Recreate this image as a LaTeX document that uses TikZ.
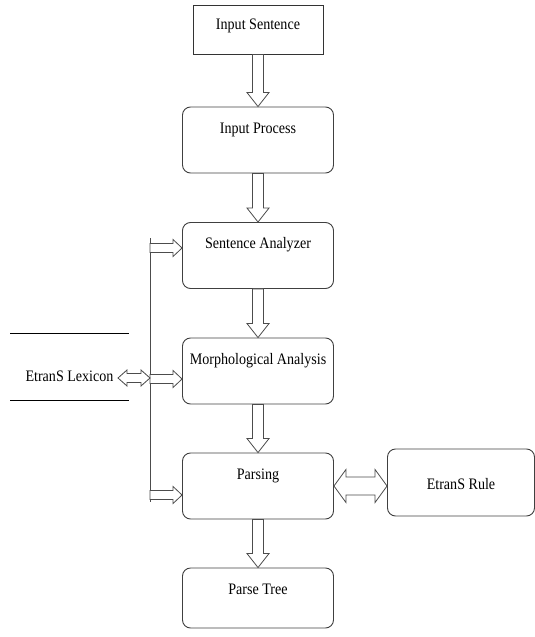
\documentclass[tikz,border=0pt]{standalone}
\usepackage{fontspec}
\setmainfont[FakeStretch=0.88]{Liberation Serif}
\usetikzlibrary{positioning,calc}

\tikzset{
  % hollow block arrow, one head: {shaft half}{head half}{head length}
  fat/.style n args={3}{to path={
    -- ($(\tikztostart)!#1!90:(\tikztotarget)$)
    -- ($(\tikztotarget)!#3!(\tikztostart)!#1!-90:(\tikztostart)$)
    -- ($(\tikztotarget)!#3!(\tikztostart)!#2!-90:(\tikztostart)$)
    -- (\tikztotarget)
    -- ($(\tikztotarget)!#3!(\tikztostart)!#2!90:(\tikztostart)$)
    -- ($(\tikztotarget)!#3!(\tikztostart)!#1!90:(\tikztostart)$)
    -- ($(\tikztostart)!#1!-90:(\tikztotarget)$)
    -- cycle}},
  % hollow block arrow, two heads
  fatboth/.style n args={3}{to path={
    -- ($(\tikztostart)!#3!(\tikztotarget)!#2!90:(\tikztotarget)$)
    -- ($(\tikztostart)!#3!(\tikztotarget)!#1!90:(\tikztotarget)$)
    -- ($(\tikztotarget)!#3!(\tikztostart)!#1!-90:(\tikztostart)$)
    -- ($(\tikztotarget)!#3!(\tikztostart)!#2!-90:(\tikztostart)$)
    -- (\tikztotarget)
    -- ($(\tikztotarget)!#3!(\tikztostart)!#2!90:(\tikztostart)$)
    -- ($(\tikztotarget)!#3!(\tikztostart)!#1!90:(\tikztostart)$)
    -- ($(\tikztostart)!#3!(\tikztotarget)!#1!-90:(\tikztotarget)$)
    -- ($(\tikztostart)!#3!(\tikztotarget)!#2!-90:(\tikztotarget)$)
    -- cycle}},
  arr/.style={draw=black!70, fill=white, line width=0.8pt, line join=miter},
  stage/.style={draw=black!75, line width=0.9pt, rounded corners=8pt,
    minimum width=151pt, inner ysep=0pt, text height=26pt, text depth=40pt},
  inbox/.style={draw=black!80, line width=0.9pt, minimum width=130pt,
    inner ysep=0pt, text height=24.5pt, text depth=24.5pt},
}

\begin{document}
\begin{tikzpicture}[x=1pt,y=-1pt,on grid,node distance=115pt,
  every node/.style={font=\fontsize{16pt}{18pt}\selectfont}]
   \useasboundingbox (0,0) rectangle (535,637);

   \node[inbox] (is) at (258,29.5) {Input Sentence};
   \node[stage] (ip) [below=110.5pt of is] {Input Process};
   \node[stage] (sa) [below=115.5pt of ip] {Sentence Analyzer};
   \node[stage] (ma) [below=115.5pt of sa] {Morphological Analysis};
   \node[stage] (pa) [below=115pt of ma] {Parsing};
   \node[stage, text depth=34pt] (pt) [below=112pt of pa] {Parse Tree};
   \node[stage, minimum width=147pt, text height=40.5pt, text depth=26.5pt]
        (er) [right=203pt of pa, yshift=3.5pt] {EtranS Rule};
   \node[minimum width=118pt, inner ysep=0pt, text height=47.5pt, text depth=18.5pt]
        (lex) [left=188.5pt of ma, yshift=4pt] {EtranS Lexicon};
   \draw[line width=0.9pt] (lex.north west) -- (lex.north east)
                           (lex.south west) -- (lex.south east);

   % bus to the analysis stages
   \coordinate (bt) at (150,238);
   \coordinate (bb) at (150,502);
   \draw[black!70, line width=0.9pt] (bt) -- (bb);
   \foreach \n/\y in {sa/248, ma/379, pa/495} {
     \coordinate (f\n) at (150,\y);
     \coordinate (g\n) at (f\n -| \n.west);
     \draw[arr, fat={4.5pt}{8.5pt}{9pt}] (f\n) to (g\n);
   }

   % main flow
   \foreach \a/\b in {is/ip, ip/sa, sa/ma, ma/pa, pa/pt}
     \draw[arr, fat={5.5pt}{11pt}{14pt}] (\a.south) to (\b.north);

   \coordinate (lx) at (118,378);
   \coordinate (ly) at (lx -| bt);
   \draw[arr, fatboth={4.5pt}{8pt}{9pt}] (lx) to (ly);

   \coordinate (rx) at (er.west |- pa.east);
   \draw[arr, fatboth={9pt}{16.5pt}{12pt}] (pa.east) to (rx);
\end{tikzpicture}
\end{document}
